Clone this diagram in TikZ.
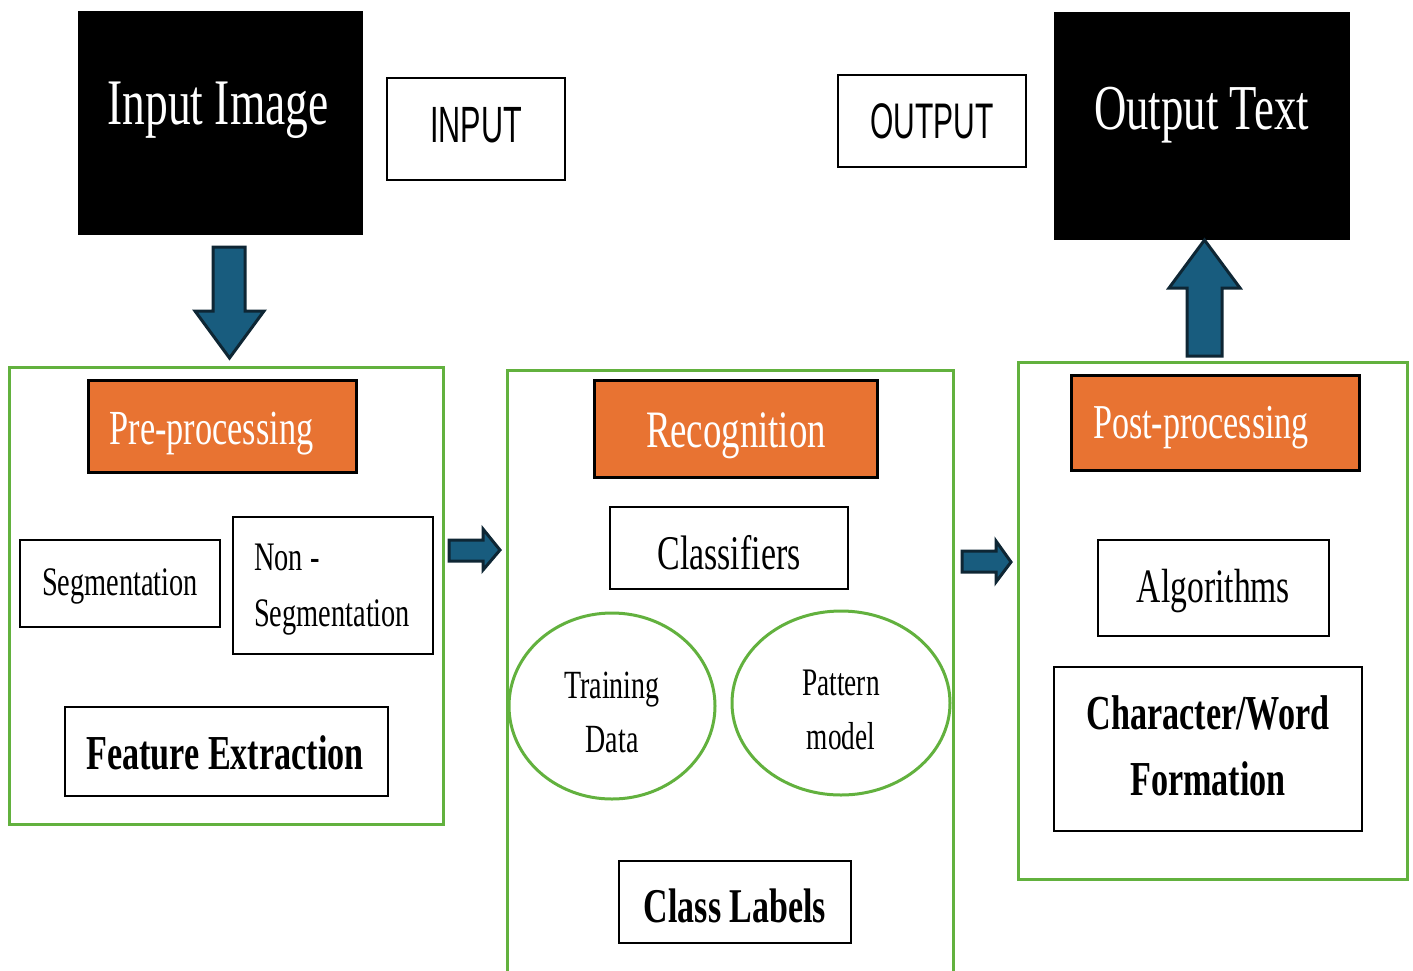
\documentclass[tikz,border=0pt]{standalone}
\usepackage{fontspec}
\setmainfont{Liberation Serif}
\newfontfamily\cond[FakeStretch=0.7]{Liberation Serif}
\newfontfamily\condsans[FakeStretch=0.6]{Liberation Sans}
\usetikzlibrary{shapes.geometric}
\definecolor{panelgreen}{RGB}{98,177,62}
\definecolor{procorange}{RGB}{232,115,50}
\definecolor{arrowfill}{RGB}{24,92,126}
\definecolor{arrowedge}{RGB}{14,38,52}
\tikzset{
  blackbox/.style={fill=black, draw=black, inner sep=0pt},
  wbox/.style={draw=black, line width=1.5pt, fill=white, inner sep=0pt},
  obox/.style={draw=black, line width=3pt, fill=procorange, inner sep=0pt},
  panel/.style={draw=panelgreen, line width=3pt},
  oval/.style={ellipse, draw=panelgreen, line width=3pt, inner sep=0pt},
  blockarrow/.style={fill=arrowfill, draw=arrowedge, line width=3pt, line join=miter},
  txt/.style={inner sep=0pt, align=center},
  wtxt/.style={inner sep=0pt, align=center, text=white},
}
\begin{document}
\begin{tikzpicture}[x=1pt,y=-1pt]
\useasboundingbox (0,0) rectangle (1413,970);
% top boxes
\node[blackbox, minimum width=284pt, minimum height=223pt] (inimg) at (220,122.5) {};
\node[wtxt, font={\cond\fontsize{65}{70}\selectfont}] (inimgt) at (218,110.5) {Input Image};
\node[wbox, minimum width=178pt, minimum height=102pt] (inlab) at (476,129) {};
\node[txt, font={\condsans\fontsize{51}{55}\selectfont}] (inlabt) at (476,125) {INPUT};
\node[wbox, minimum width=188pt, minimum height=92pt] (outlab) at (932,121) {};
\node[txt, font={\condsans\fontsize{50}{55}\selectfont}] (outlabt) at (932,121) {OUTPUT};
\node[blackbox, minimum width=295pt, minimum height=227pt] (outtxt) at (1201.5,125.5) {};
\node[wtxt, font={\cond\fontsize{64}{70}\selectfont}] (outtxtt) at (1201.5,115.5) {Output Text};

% panels
\draw[panel] (9,367) rectangle (443,824);
\draw[panel] (507,370) rectangle (953,972);
\draw[panel] (1018,362) rectangle (1407,879);

% panel 1
\node[obox, minimum width=268pt, minimum height=92pt] (pre) at (222,426) {};
\node[wtxt, font={\cond\fontsize{49}{55}\selectfont}] (pret) at (211.5,434) {Pre-processing};
\node[wbox, minimum width=200pt, minimum height=87pt] (seg) at (120,583.5) {};
\node[txt, font={\cond\fontsize{40.5}{45}\selectfont}] (segt) at (120,586.5) {Segmentation};
\node[wbox, minimum width=200pt, minimum height=137pt] (nonseg) at (333,585.5) {};
\node[inner sep=0pt, align=left, anchor=west, font={\cond\fontsize{40.5}{56}\selectfont}] (nonsegt) at (254,590) {Non -\\Segmentation};
\node[wbox, minimum width=323pt, minimum height=89pt] (feat) at (226.5,751.5) {};
\node[txt, font={\cond\bfseries\fontsize{48.8}{52}\selectfont}] (featt) at (225,752.5) {Feature Extraction};

% panel 2
\node[obox, minimum width=283pt, minimum height=97pt] (rec) at (735.5,428.5) {};
\node[wtxt, font={\cond\fontsize{52.6}{58}\selectfont}] (rect) at (736,435.5) {Recognition};
\node[wbox, minimum width=238pt, minimum height=82pt] (cls) at (729,548) {};
\node[txt, font={\cond\fontsize{48.4}{55}\selectfont}] (clst) at (729,553) {Classifiers};
\node[oval, minimum width=206pt, minimum height=186pt] (train) at (612,706) {};
\node[txt, font={\cond\fontsize{40}{54}\selectfont}] (traint) at (612,712) {Training\\Data};
\node[oval, minimum width=218pt, minimum height=184pt] (patt) at (841,703) {};
\node[txt, font={\cond\fontsize{39}{54}\selectfont}] (pattt) at (841,710) {Pattern\\model};
\node[wbox, minimum width=232pt, minimum height=82pt] (labels) at (735,902) {};
\node[txt, font={\cond\bfseries\fontsize{48.5}{55}\selectfont}] (labelst) at (735,906) {Class Labels};

% panel 3
\node[obox, minimum width=288pt, minimum height=95pt] (post) at (1215,422.5) {};
\node[wtxt, font={\cond\fontsize{48.7}{55}\selectfont}] (postt) at (1201,427.5) {Post-processing};
\node[wbox, minimum width=231pt, minimum height=96pt] (alg) at (1213.5,588) {};
\node[txt, font={\cond\fontsize{48}{55}\selectfont}] (algt) at (1213.5,591) {Algorithms};
\node[wbox, minimum width=308pt, minimum height=164pt] (form) at (1208,749) {};
\node[txt, font={\cond\bfseries\fontsize{48.8}{66}\selectfont}] (formt) at (1208,746) {Character/Word\\Formation};

% block arrows
\draw[blockarrow] (213,247) -- (245,247) -- (245,311) -- (264,311) -- (229.5,358)
  -- (195,311) -- (213,311) -- cycle;
\draw[blockarrow] (1204.5,240) -- (1240,288) -- (1222,288) -- (1222,356) -- (1187,356)
  -- (1187,288) -- (1169,288) -- cycle;
\draw[blockarrow] (449,540) -- (483,540) -- (483,529) -- (500,550) -- (483,570)
  -- (483,561) -- (449,561) -- cycle;
\draw[blockarrow] (962,551) -- (996,551) -- (996,541) -- (1011,562) -- (996,582)
  -- (996,572) -- (962,572) -- cycle;
\end{tikzpicture}
\end{document}
